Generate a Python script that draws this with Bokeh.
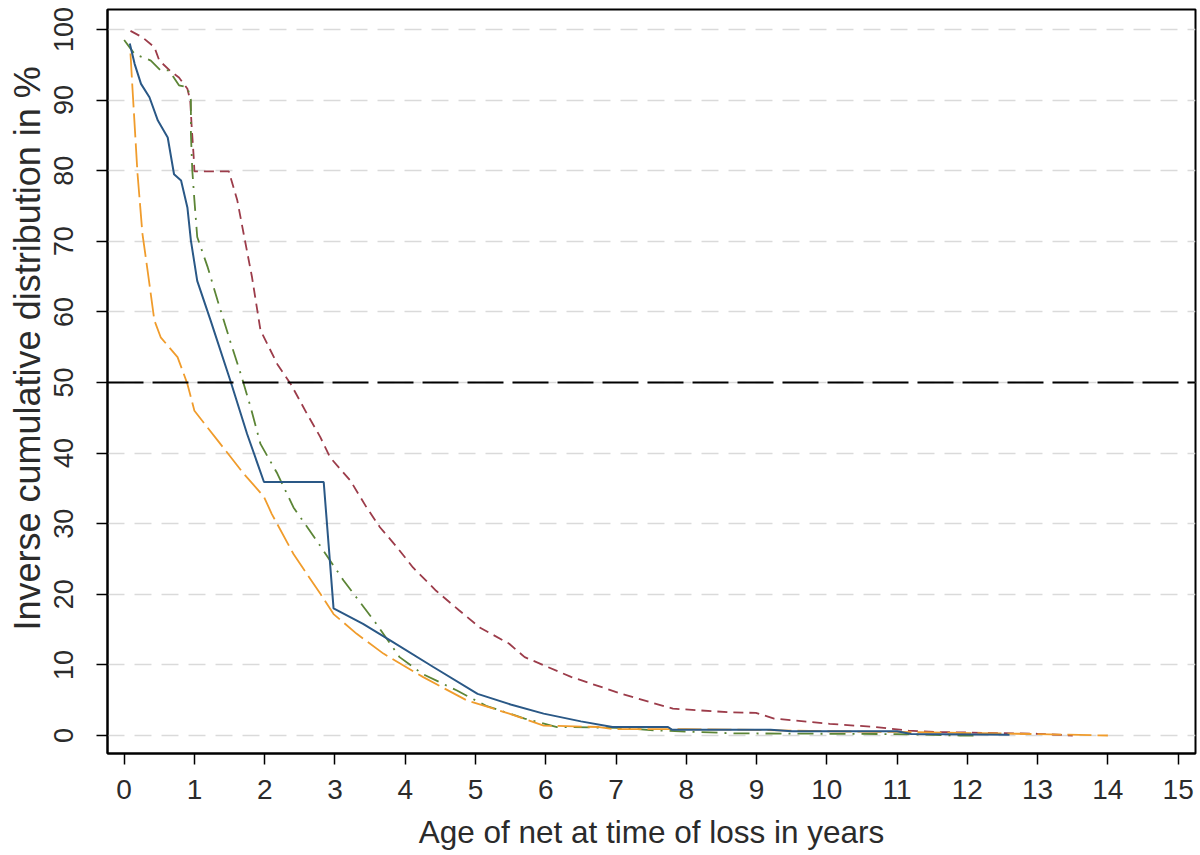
from bokeh.plotting import figure
from bokeh.models import Range1d, FixedTicker, Span, Title
from bokeh.embed import file_html
from bokeh.resources import INLINE

# ---- data (age in years, % remaining) ----
blue_x = [0.08, 0.15, 0.24, 0.36, 0.48, 0.62, 0.71, 0.81, 0.90, 0.95, 1.04, 1.23, 1.52, 1.75, 1.99, 2.84, 2.91, 2.98, 3.40, 3.78, 4.40, 5.03, 5.50, 5.97, 6.50, 6.95, 7.74, 7.80, 9.20, 9.50, 11.0, 11.2, 12.6]
blue_y = [98.0, 95.1, 92.3, 90.4, 87.1, 84.7, 79.5, 78.6, 74.8, 70.1, 64.4, 58.8, 50.0, 42.7, 35.9, 35.9, 27.0, 18.0, 15.8, 13.5, 9.7, 5.9, 4.4, 3.1, 2.0, 1.2, 1.2, 0.8, 0.8, 0.6, 0.6, 0.2, 0.1]

orange_x = [0.09, 0.12, 0.19, 0.26, 0.34, 0.43, 0.52, 0.76, 0.90, 1.00, 1.33, 1.70, 1.99, 2.10, 2.41, 2.79, 2.98, 3.31, 3.69, 4.25, 4.87, 5.48, 5.97, 6.76, 6.95, 8.0, 9.0, 10.0, 11.0, 12.7, 14.0]
orange_y = [96.6, 91.4, 79.6, 71.1, 65.4, 58.8, 56.4, 53.6, 49.8, 46.0, 41.8, 37.1, 33.8, 31.4, 25.7, 20.1, 17.2, 14.4, 11.6, 8.3, 5.0, 3.1, 1.4, 1.2, 0.9, 0.9, 0.8, 0.6, 0.5, 0.25, 0.0]

green_x = [0.0, 0.15, 0.38, 0.52, 0.64, 0.78, 0.90, 0.95, 0.95, 0.97, 1.00, 1.04, 1.19, 1.33, 1.52, 1.66, 1.80, 1.94, 2.18, 2.41, 2.74, 3.12, 3.59, 3.92, 4.25, 4.73, 5.15, 5.70, 6.16, 7.0, 7.6, 8.7, 11.0, 11.9, 12.1]
green_y = [98.5, 96.5, 95.6, 94.2, 94.2, 92.1, 91.8, 90.0, 85.2, 80.0, 75.8, 70.6, 66.3, 61.6, 55.5, 51.2, 46.5, 41.3, 37.1, 32.3, 27.6, 22.0, 15.8, 11.1, 8.7, 6.4, 4.2, 2.4, 1.2, 1.1, 0.7, 0.3, 0.2, 0.0, 0.0]

red_x = [0.09, 0.26, 0.43, 0.50, 0.67, 0.78, 0.90, 0.94, 0.96, 0.99, 1.00, 1.49, 1.61, 1.70, 1.82, 1.94, 2.18, 2.37, 2.60, 2.79, 2.93, 3.22, 3.45, 3.64, 3.88, 4.11, 4.44, 4.77, 5.06, 5.48, 5.70, 6.36, 7.08, 7.81, 8.60, 8.99, 9.25, 10.04, 10.7, 11.16, 11.55, 13.0, 13.5]
red_y = [99.8, 98.9, 97.5, 95.6, 94.0, 93.2, 91.6, 90.0, 86.4, 81.9, 79.9, 79.9, 75.8, 71.1, 64.9, 57.4, 52.6, 49.8, 45.6, 42.3, 39.4, 36.1, 32.3, 29.5, 26.7, 23.8, 20.5, 17.7, 15.3, 13.0, 11.1, 8.3, 5.9, 3.8, 3.3, 3.2, 2.4, 1.65, 1.2, 0.7, 0.5, 0.24, 0.0]

x_ticks = list(range(0, 16))
y_ticks = list(range(0, 101, 10))
median_line = 50
x_title = "Age of net at time of loss in years"
y_title = "Inverse cumulative distribution in %"

FONT = "Liberation Sans"
TEXT = "#2b2b2b"

p = figure(width=1200, height=855, output_backend="svg", toolbar_location=None,
           x_range=Range1d(-0.237, 15.247), y_range=Range1d(-2.55, 102.83),
           min_border_left=106, min_border_right=5, min_border_top=9, min_border_bottom=102)

p.background_fill_color = "white"
p.border_fill_color = "white"
p.outline_line_color = "black"
p.outline_line_width = 2

# grid
p.xgrid.grid_line_color = None
p.ygrid.grid_line_color = "#dadada"
p.ygrid.grid_line_dash = "17 10"
p.ygrid.grid_line_width = 1.5

# axes
for ax in (p.xaxis[0], p.yaxis[0]):
    ax.axis_line_color = "black"
    ax.axis_line_width = 2
    ax.major_tick_line_color = "black"
    ax.major_tick_line_width = 1.5
    ax.major_tick_in = 0
    ax.major_tick_out = 11
    ax.minor_tick_line_color = None
    ax.major_label_text_font = FONT
    ax.axis_label_text_font = FONT
    ax.axis_label_text_font_style = "normal"
    ax.major_label_text_color = TEXT
    ax.axis_label_text_color = TEXT

p.xaxis.ticker = FixedTicker(ticks=x_ticks)
p.yaxis.ticker = FixedTicker(ticks=y_ticks)
p.xaxis.major_label_text_font_size = "28px"
p.yaxis.major_label_text_font_size = "27px"
p.xaxis.axis_label = x_title
p.xaxis.axis_label_text_font_size = "31.5px"
p.xaxis.major_label_standoff = 15
p.yaxis.major_label_standoff = 23
p.xaxis.axis_label_standoff = 12
p.yaxis.major_label_orientation = "vertical"

# y title in the left panel, shifted up like the reference
p.add_layout(Title(text=y_title, align="left", offset=123, vertical_align="bottom",
                   standoff=8, text_font=FONT, text_font_size="36px",
                   text_font_style="normal", text_color=TEXT), "left")

# reference line at 50 %
p.add_layout(Span(location=median_line, dimension="width", line_color="black",
                  line_width=2, line_dash="36 9"))

# curves
p.line(red_x, red_y, line_color="#9c3c4a", line_width=1.8, line_dash="10 6")
p.line(green_x, green_y, line_color="#5c8536", line_width=1.8, line_dash="16 7 2 7")
p.line(orange_x, orange_y, line_color="#f09c2c", line_width=1.8, line_dash="24 6")
p.line(blue_x, blue_y, line_color="#2a5886", line_width=2)

open("out.html", "w").write(file_html(p, INLINE))
